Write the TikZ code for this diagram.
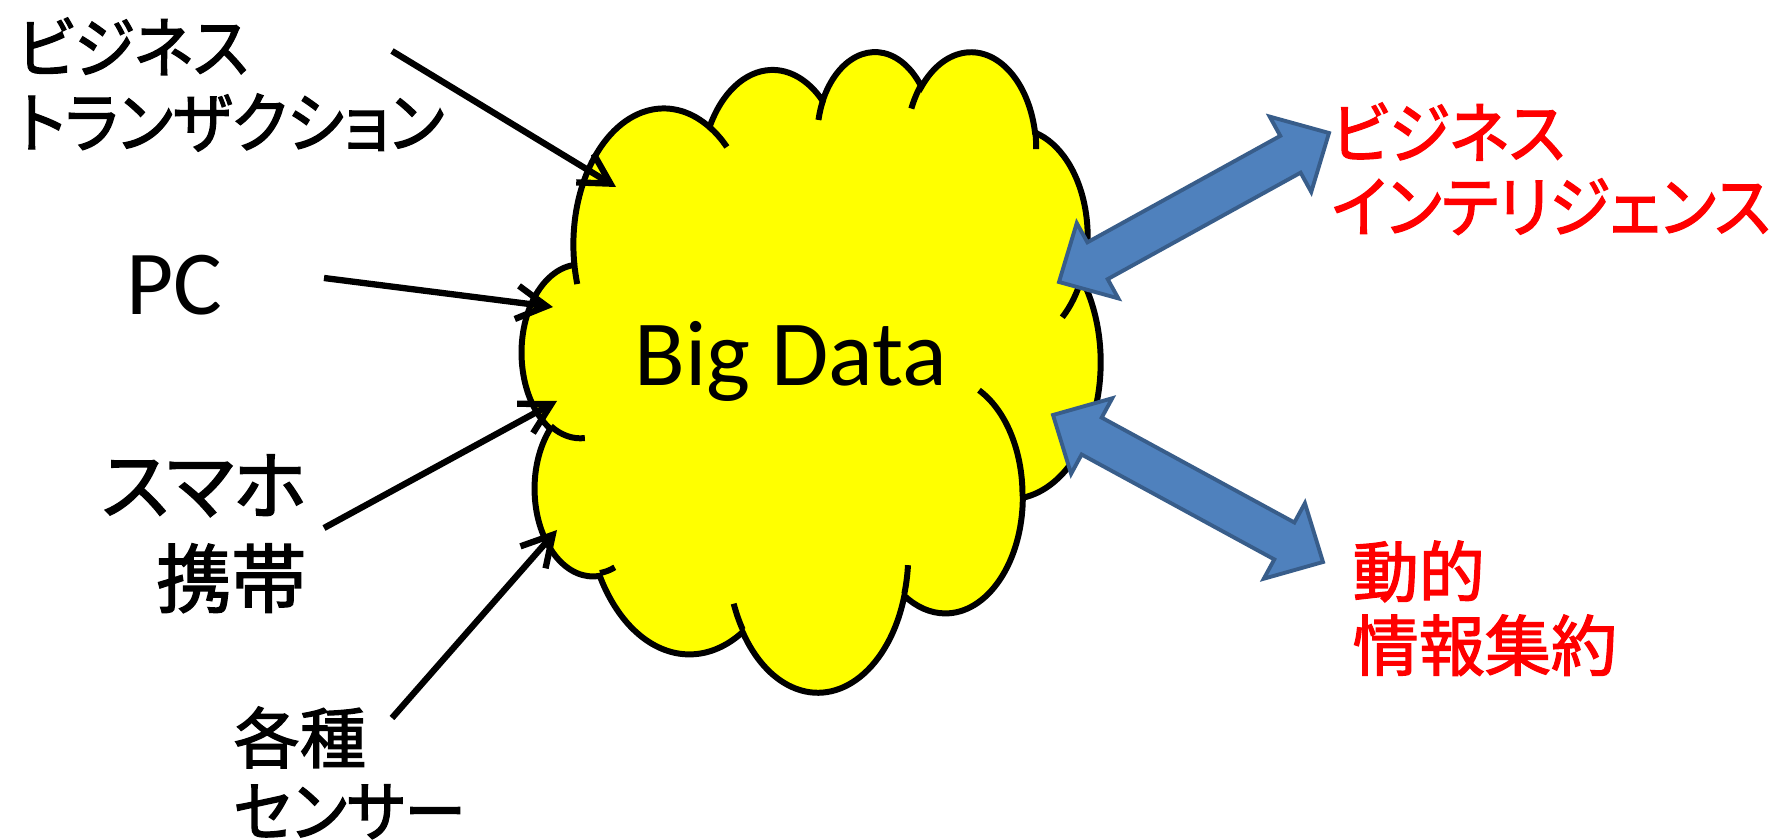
\documentclass[tikz,border=0pt]{standalone}
\usepackage{fontspec}
\usetikzlibrary{arrows.meta,calc}
\newfontfamily\jpfont[RawFeature={+palt}, FakeBold=2]{Noto Sans CJK JP}
\newfontfamily\jpkana[RawFeature={+palt}, FakeBold=2, FakeStretch=0.93]{Noto Sans CJK JP}
\newfontfamily\latfont{Carlito}
\definecolor{arrfill}{HTML}{4F81BD}
\definecolor{arredge}{HTML}{385D8A}
\definecolor{cloudyellow}{HTML}{FFFF00}
\definecolor{txred}{HTML}{FF0000}
% visual (DrawingML) angle -> parametric angle for an ellipse arc
\newcommand\cldcalc[5]{%
  \pgfmathsetmacro\cldtmpa{#4}%
  \pgfmathsetmacro\cldtmpb{#4+#5}%
  \pgfmathsetmacro\cldtmps{\cldtmpa+mod(atan2(#2*sin(\cldtmpa),#3*cos(\cldtmpa))-\cldtmpa+540,360)-180}%
  \pgfmathsetmacro\cldtmpe{\cldtmpb+mod(atan2(#2*sin(\cldtmpb),#3*cos(\cldtmpb))-\cldtmpb+540,360)-180}%
  \expandafter\xdef\csname cld#1s\endcsname{\cldtmps}%
  \expandafter\xdef\csname cld#1e\endcsname{\cldtmpe}%
}
\newcommand\blockarrow[2]{%
  \draw[blockarr] let \p1=($(#2)-(#1)$), \n1={atan2(\y1,\x1)} in
    (#1) -- ($(#1)+(\n1:0.44cm)+(\n1+90:0.43cm)$) -- ($(#1)+(\n1:0.44cm)+(\n1+90:0.21cm)$)
    -- ($(#2)+(\n1+180:0.44cm)+(\n1+90:0.21cm)$) -- ($(#2)+(\n1+180:0.44cm)+(\n1+90:0.43cm)$)
    -- (#2) -- ($(#2)+(\n1+180:0.44cm)+(\n1-90:0.43cm)$) -- ($(#2)+(\n1+180:0.44cm)+(\n1-90:0.21cm)$)
    -- ($(#1)+(\n1:0.44cm)+(\n1-90:0.21cm)$) -- ($(#1)+(\n1:0.44cm)+(\n1-90:0.43cm)$) -- cycle;
}
\tikzset{
  cloudshape/.style={fill=cloudyellow, draw=black, line width=1.7pt},
  cloudline/.style={draw=black, line width=1.7pt},
  feed/.style={draw=black, line width=1.8pt, -{Straight Barb[length=8.5pt,width=9.5pt]}},
  blockarr/.style={fill=arrfill, draw=arredge, line width=1.1pt, line join=miter},
  jptext/.style={inner sep=0pt, align=left},
  lattext/.style={inner sep=0pt},
}
\begin{document}
\begin{tikzpicture}[x=0.01cm, y=-0.01cm]
\useasboundingbox (0,0) rectangle (1781,840);
\fill[white] (0,0) rectangle (1781,840);
% arc parameters
\cldcalc{mA}{67.53}{91.90}{-190.4875}{123.7805}
\cldcalc{mB}{53.33}{72.67}{-144.1024}{89.9452}
\cldcalc{mC}{43.65}{59.45}{-145.8079}{99.7230}
\cldcalc{mD}{48.57}{65.95}{-130.9861}{117.2417}
\cldcalc{mE}{53.33}{72.73}{-78.7089}{109.0269}
\cldcalc{mF}{67.75}{92.20}{-46.2673}{130.2690}
\cldcalc{mG}{57.85}{78.67}{0.6250}{114.0333}
\cldcalc{mH}{67.52}{92.15}{22.4516}{115.1726}
\cldcalc{mI}{77.20}{105.43}{66.2426}{75.7110}
\cldcalc{mJ}{43.60}{59.18}{-274.9421}{146.7356}
\cldcalc{mK}{43.45}{59.45}{-246.8285}{152.5189}
\cldcalc{iA}{43.45}{59.45}{86.7420}{26.4295}
\cldcalc{iB}{43.60}{59.18}{73.6105}{11.4475}
\cldcalc{iC}{67.52}{92.15}{137.6242}{14.0811}
\cldcalc{iD}{67.52}{92.15}{6.4533}{15.9984}
\cldcalc{iE}{57.85}{78.67}{-70.2924}{70.9174}
\cldcalc{iF}{53.33}{72.73}{30.3180}{27.7515}
\cldcalc{iG}{48.57}{65.95}{-13.7443}{14.8589}
\cldcalc{iH}{48.57}{65.95}{-149.1815}{18.1954}
\cldcalc{iI}{43.65}{59.45}{-163.4943}{17.6864}
\cldcalc{iJ}{67.53}{91.90}{-66.7070}{12.3194}
\cldcalc{iK}{67.53}{91.90}{157.6544}{11.8582}
% cloud
\begin{scope}[shift={(522,50)}, x=0.013380cm, y=-0.014815cm]
\path[cloudshape] (39.00,143.70)
  arc[start angle=\cldmAs, end angle=\cldmAe, x radius=67.53, y radius=91.90]
  arc[start angle=\cldmBs, end angle=\cldmBe, x radius=53.33, y radius=72.67]
  arc[start angle=\cldmCs, end angle=\cldmCe, x radius=43.65, y radius=59.45]
  arc[start angle=\cldmDs, end angle=\cldmDe, x radius=48.57, y radius=65.95]
  arc[start angle=\cldmEs, end angle=\cldmEe, x radius=53.33, y radius=72.73]
  arc[start angle=\cldmFs, end angle=\cldmFe, x radius=67.75, y radius=92.20]
  arc[start angle=\cldmGs, end angle=\cldmGe, x radius=57.85, y radius=78.67]
  arc[start angle=\cldmHs, end angle=\cldmHe, x radius=67.52, y radius=92.15]
  arc[start angle=\cldmIs, end angle=\cldmIe, x radius=77.20, y radius=105.43]
  arc[start angle=\cldmJs, end angle=\cldmJe, x radius=43.60, y radius=59.18]
  arc[start angle=\cldmKs, end angle=\cldmKe, x radius=43.45, y radius=59.45]
  -- cycle;
\path[cloudline]
  (46.93,261.77) arc[start angle=\cldiAs, end angle=\cldiAe, x radius=43.45, y radius=59.45]
  (69.28,348.99) arc[start angle=\cldiBs, end angle=\cldiBe, x radius=43.60, y radius=59.18]
  (164.78,390.90) arc[start angle=\cldiCs, end angle=\cldiCe, x radius=67.52, y radius=92.15]
  (288.27,347.51) arc[start angle=\cldiDs, end angle=\cldiDe, x radius=67.52, y radius=92.15]
  (341.29,229.54) arc[start angle=\cldiEs, end angle=\cldiEe, x radius=57.85, y radius=78.67]
  (417.98,153.54) arc[start angle=\cldiFs, end angle=\cldiFe, x radius=53.33, y radius=72.73]
  (383.24,54.26) arc[start angle=\cldiGs, end angle=\cldiGe, x radius=48.57, y radius=65.95]
  (290.78,39.52) arc[start angle=\cldiHs, end angle=\cldiHe, x radius=48.57, y radius=65.95]
  (221.41,47.20) arc[start angle=\cldiIs, end angle=\cldiIe, x radius=43.65, y radius=59.45]
  (140.00,51.92) arc[start angle=\cldiJs, end angle=\cldiJe, x radius=67.53, y radius=91.90]
  (41.27,157.89) arc[start angle=\cldiKs, end angle=\cldiKe, x radius=67.53, y radius=91.90];
\end{scope}
\node[lattext, font=\latfont\fontsize{26.5pt}{30pt}\selectfont, anchor=base] (bigdata) at (791,386) {Big Data};
% source texts
\node[jptext, font=\jpkana\fontsize{18.8pt}{21.3pt}\selectfont, anchor=north west] (txbt) at (17,17) {ビジネス\\トランザクション};
\node[lattext, font=\latfont\fontsize{26pt}{30pt}\selectfont, anchor=base] (txpc) at (174,315) {PC};
\node[jptext, align=right, font=\fontsize{21.3pt}{26.5pt}\selectfont, anchor=north east] (txsp) at (307,454) {{\jpfont スマホ}\\{\jpfont 携帯}};
\node[jptext, font=\fontsize{18.8pt}{20.8pt}\selectfont, anchor=north west] (txse) at (233,706) {{\jpfont 各種}\\{\jpkana センサー}};
% result texts
\node[jptext, text=txred, font=\jpkana\fontsize{19pt}{21pt}\selectfont, anchor=north west] (txbi) at (1331,102) {ビジネス\\インテリジェンス};
\node[jptext, text=txred, font=\jpfont\fontsize{18.8pt}{21pt}\selectfont, anchor=north west] (txdy) at (1352,540) {動的\\情報集約};
% connector end points
\coordinate (a1s) at (392,51);  \coordinate (a1e) at (616,187);
\coordinate (a2s) at (324,278); \coordinate (a2e) at (553,307);
\coordinate (a3s) at (324,528); \coordinate (a3e) at (557,401);
\coordinate (a4s) at (392,718); \coordinate (a4e) at (557,530);
\coordinate (b1a) at (1059,282); \coordinate (b1b) at (1329,133);
\coordinate (b2a) at (1053,415); \coordinate (b2b) at (1323,562);
\draw[feed] (a1s) -- (a1e);
\draw[feed] (a2s) -- (a2e);
\draw[feed] (a3s) -- (a3e);
\draw[feed] (a4s) -- (a4e);
\blockarrow{b1a}{b1b}
\blockarrow{b2a}{b2b}
\end{tikzpicture}
\end{document}
